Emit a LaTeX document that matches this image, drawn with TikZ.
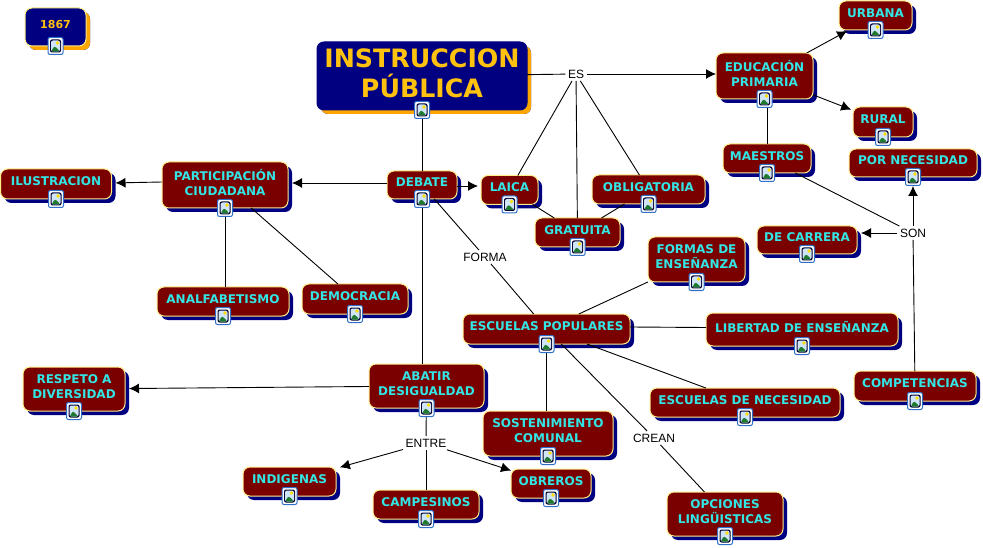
\documentclass[tikz,border=0pt]{standalone}
\usepackage{fontspec}
\setmainfont{DejaVu Sans}
\newfontfamily\labelfont{Liberation Sans}
\usetikzlibrary{arrows.meta,shadows}
\definecolor{conceptfill}{HTML}{7A0000}
\definecolor{titlefill}{HTML}{000080}
\definecolor{edgeyellow}{HTML}{FFEE88}
\definecolor{titleorange}{HTML}{FFA500}
\definecolor{titletext}{HTML}{FFC20E}
\definecolor{concepttext}{HTML}{33E6E6}
\definecolor{iconblue}{HTML}{2F6FC8}
\definecolor{iconsky}{HTML}{CFE4F7}
\definecolor{iconhill}{HTML}{1F7A30}

\begin{document}
\begin{tikzpicture}[
    x=1pt, y=-1pt,
    concept/.style={draw=edgeyellow, line width=1pt, rounded corners=7pt, fill=conceptfill, text=concepttext,
        font=\bfseries\fontsize{12}{15}\selectfont, align=center, inner sep=0pt, outer sep=0pt, text depth=5pt,
        drop shadow={shadow xshift=4pt, shadow yshift=-4pt, fill=titlefill, opacity=1}},
    title/.style={concept, draw=titlefill, fill=titlefill, text=titletext,
        drop shadow={shadow xshift=4pt, shadow yshift=-4pt, fill=titleorange, opacity=1}},
    wordlabel/.style={font=\labelfont\fontsize{12}{14}\selectfont, inner sep=2.5pt},
    icon/.style={draw=iconblue, line width=1pt, rounded corners=2pt, fill=white, minimum width=15pt, minimum height=17pt, inner sep=0pt,
        path picture={
            \fill[black!80!blue] ([xshift=2pt,yshift=-2pt]path picture bounding box.north west) rectangle ([xshift=-2pt,yshift=2pt]path picture bounding box.south east);
            \fill[iconsky] ([xshift=3pt,yshift=-3pt]path picture bounding box.north west) rectangle ([xshift=-3pt,yshift=3pt]path picture bounding box.south east);
            \fill[iconhill] ([xshift=3pt,yshift=3pt]path picture bounding box.south west) -- ([xshift=-1pt,yshift=0pt]path picture bounding box.center) -- ([xshift=-3pt,yshift=3pt]path picture bounding box.south east) -- cycle;
            \fill[yellow!80!orange] ([xshift=2pt,yshift=3pt]path picture bounding box.center) circle (1.8pt);
        }},
    line/.style={black, line width=0.9pt},
    link/.style={line, -{Latex[length=10pt,width=10pt]}}
]
    \useasboundingbox (0,0) rectangle (983,548);

    \node[title, draw=edgeyellow, minimum width=61pt, minimum height=38pt, font=\bfseries\fontsize{11}{13}\selectfont] (year) at (55.5,27) {1867};
    \node[title, minimum width=210pt, minimum height=68pt, font=\bfseries\fontsize{25.3}{30}\selectfont] (instruccion) at (422,76) {INSTRUCCION\\PÚBLICA};

    \node[concept, minimum width=111pt, minimum height=30pt] (ilustracion) at (56,184) {ILUSTRACION};
    \node[concept, minimum width=126pt, minimum height=46pt] (participacion) at (225,185) {PARTICIPACIÓN\\CIUDADANA};
    \node[concept, minimum width=70pt, minimum height=28pt] (debate) at (422,185) {DEBATE};
    \node[concept, minimum width=57pt, minimum height=29pt] (laica) at (509.5,190) {LAICA};
    \node[concept, minimum width=85pt, minimum height=29pt] (gratuita) at (577.5,232.5) {GRATUITA};
    \node[concept, minimum width=113pt, minimum height=29pt] (obligatoria) at (648.5,189.5) {OBLIGATORIA};
    \node[concept, minimum width=97pt, minimum height=46pt] (primaria) at (764.5,76) {EDUCACIÓN\\PRIMARIA};
    \node[concept, minimum width=73pt, minimum height=29pt] (urbana) at (875.5,15.5) {URBANA};
    \node[concept, minimum width=60pt, minimum height=30pt] (rural) at (883,122) {RURAL};
    \node[concept, minimum width=88pt, minimum height=29pt] (maestros) at (767,158.5) {MAESTROS};
    \node[concept, minimum width=128pt, minimum height=28pt] (necesidad) at (913,163) {POR NECESIDAD};
    \node[concept, minimum width=100pt, minimum height=28pt] (carrera) at (807,240) {DE CARRERA};
    \node[concept, minimum width=97pt, minimum height=45pt] (formas) at (696.5,259.5) {FORMAS DE\\ENSEÑANZA};
    \node[concept, minimum width=192pt, minimum height=33pt] (libertad) at (802,329.5) {LIBERTAD DE ENSEÑANZA};
    \node[concept, minimum width=167pt, minimum height=30pt] (populares) at (546.5,329) {ESCUELAS POPULARES};
    \node[concept, minimum width=132pt, minimum height=29pt] (analfabetismo) at (223,301.5) {ANALFABETISMO};
    \node[concept, minimum width=106pt, minimum height=30pt] (democracia) at (355,299) {DEMOCRACIA};
    \node[concept, minimum width=115pt, minimum height=44pt] (abatir) at (426.5,386) {ABATIR\\DESIGUALDAD};
    \node[concept, minimum width=102pt, minimum height=44pt] (respeto) at (74,389) {RESPETO A\\DIVERSIDAD};
    \node[concept, minimum width=190pt, minimum height=29pt] (escnecesidad) at (745,402.5) {ESCUELAS DE NECESIDAD};
    \node[concept, minimum width=122pt, minimum height=30pt] (competencias) at (915,386) {COMPETENCIAS};
    \node[concept, minimum width=130pt, minimum height=45pt] (sostenimiento) at (548,433.5) {SOSTENIMIENTO\\COMUNAL};
    \node[concept, minimum width=93pt, minimum height=29pt] (indigenas) at (289.5,481.5) {INDIGENAS};
    \node[concept, minimum width=106pt, minimum height=29pt] (campesinos) at (426,504.5) {CAMPESINOS};
    \node[concept, minimum width=80pt, minimum height=29pt] (obreros) at (551,483.5) {OBREROS};
    \node[concept, minimum width=116pt, minimum height=44pt] (opciones) at (725,514) {OPCIONES\\LINGÜISTICAS};

    \node[wordlabel] (es) at (576,74) {ES};
    \node[wordlabel] (forma) at (485,257) {FORMA};
    \node[wordlabel] (son) at (913,233) {SON};
    \node[wordlabel] (crean) at (654,438) {CREAN};
    \node[wordlabel] (entre) at (426,443) {ENTRE};

    \draw[line] (instruccion) -- (es);
    \draw[link] (es) -- (es -| primaria.west);
    \draw[line] (es) -- (laica);
    \draw[line] (es) -- (gratuita);
    \draw[line] (es) -- (obligatoria);
    \draw[line] (instruccion) -- (debate);
    \draw[line] (laica) -- (gratuita);
    \draw[line] (obligatoria) -- (gratuita);
    \draw[link, shorten >=3pt] ([yshift=-1pt]debate.east) -- ([yshift=4pt]laica.west);
    \draw[link, shorten >=4pt] ([yshift=2pt]debate.west) -- ([yshift=2pt]participacion.east);
    \draw[link, shorten >=4pt] ([yshift=3pt]participacion.west) -- ([yshift=1pt]ilustracion.east);
    \draw[line] (participacion) -- (participacion |- analfabetismo.north);
    \draw[line] (participacion) -- (democracia);
    \draw[line] (debate) -- (forma);
    \draw[line] (forma) -- (populares);
    \draw[line] (debate) -- (debate |- abatir.north);
    \draw[link, shorten >=4pt] (abatir) -- (respeto);
    \draw[line] (abatir) -- (entre);
    \draw[link, shorten >=4pt] (entre) -- (indigenas);
    \draw[line] (entre) -- (campesinos);
    \draw[link] (entre) -- (obreros);
    \draw[line] (populares) -- (formas);
    \draw[line] ([yshift=2pt]populares.east) -- ([yshift=2pt]libertad.west);
    \draw[line] (populares) -- (escnecesidad);
    \draw[line] (populares) -- (populares |- sostenimiento.north);
    \draw[line] (populares) -- (crean);
    \draw[line] (crean) -- (opciones);
    \draw[link, shorten >=2pt] (primaria) -- (urbana);
    \draw[link, shorten >=2pt] (primaria) -- (rural);
    \draw[line] (maestros |- primaria.south) -- (maestros);
    \draw[line] (maestros) -- (son);
    \draw[link, shorten >=9pt] (son) -- (necesidad);
    \draw[link, shorten >=4pt] (son) -- (son -| carrera.east);
    \draw[line] (competencias) -- (son);

    \foreach \n in {year,instruccion,ilustracion,participacion,debate,laica,gratuita,obligatoria,primaria,urbana,rural,maestros,necesidad,carrera,formas,libertad,populares,analfabetismo,democracia,abatir,respeto,escnecesidad,competencias,sostenimiento,indigenas,campesinos,obreros,opciones}
        \node[icon] (\n-icon) at (\n.south) {};
\end{tikzpicture}
\end{document}
